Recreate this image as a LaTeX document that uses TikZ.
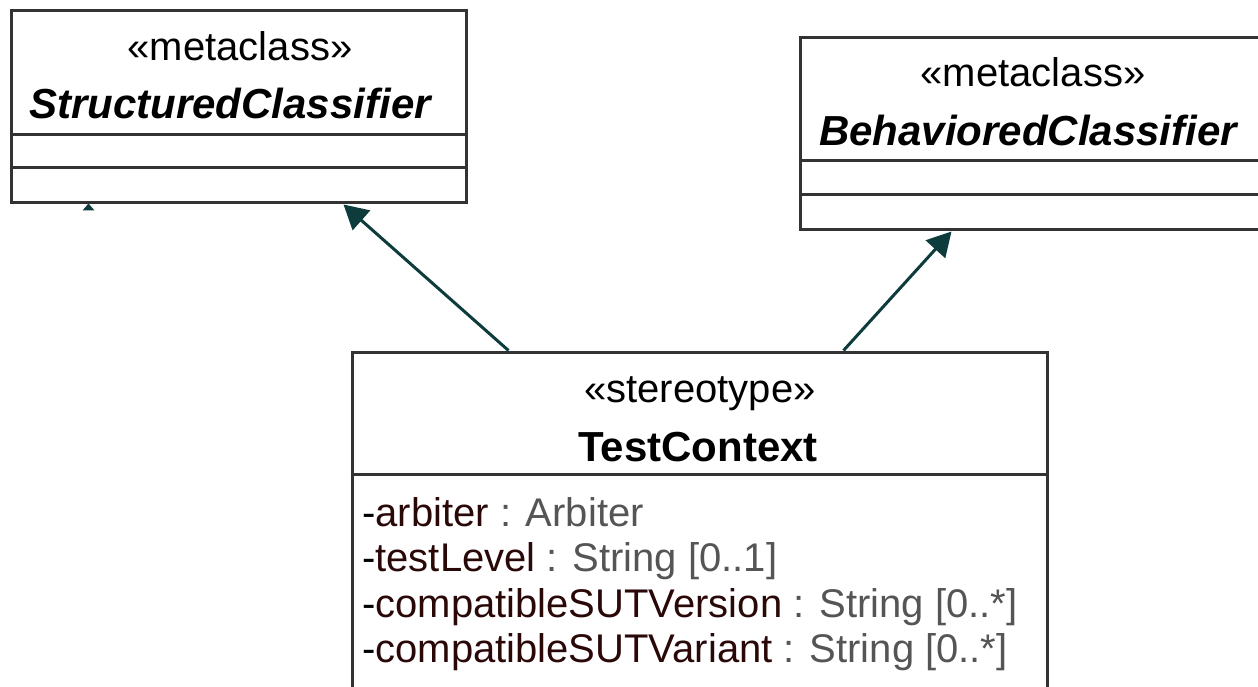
\documentclass[tikz,border=0pt]{standalone}
\usepackage{fontspec}
\setmainfont{Liberation Sans}
\usetikzlibrary{arrows.meta,calc}
\definecolor{boxline}{HTML}{333333}
\definecolor{arrowc}{HTML}{0E3B3B}
\definecolor{attrname}{HTML}{2A0808}
\definecolor{attrtype}{HTML}{555555}
\tikzset{
  umlbox/.style={draw=boxline,line width=3pt,rectangle,inner sep=0pt,fill=white},
  divider/.style={draw=boxline,line width=3pt},
  stereo/.style={inner sep=0pt,font=\fontsize{40}{46}\selectfont,anchor=base},
  cname/.style={inner sep=0pt,font=\fontsize{42}{48}\selectfont\bfseries\itshape,anchor=base},
  tname/.style={inner sep=0pt,font=\fontsize{42}{48}\selectfont\bfseries,anchor=base},
  attr/.style={inner sep=0pt,font=\fontsize{40}{46}\selectfont,anchor=base west},
  gen/.style={draw=arrowc,line width=3pt,-{Triangle[length=24pt,width=26pt]}}
}
\begin{document}
\begin{tikzpicture}[x=1pt,y=-1pt]
\useasboundingbox[fill=white] (0,0) rectangle (1258,687);
% StructuredClassifier
\node[umlbox,minimum width=455pt,minimum height=192pt] (sc) at (238.5,107) {};
\draw[divider] ($(sc.north west)+(0,125)$) -- ($(sc.north east)+(0,125)$);
\draw[divider] ($(sc.north west)+(0,158)$) -- ($(sc.north east)+(0,158)$);
\node[stereo] (scs) at (240,61) {«metaclass»};
\node[cname] (scn) at (230,119) {StructuredClassifier};
% BehavioredClassifier
\node[umlbox,minimum width=480pt,minimum height=192pt] (bc) at (1040,134) {};
\draw[divider] ($(bc.north west)+(0,124)$) -- ($(bc.north east)+(0,124)$);
\draw[divider] ($(bc.north west)+(0,158)$) -- ($(bc.north east)+(0,158)$);
\node[stereo] (bcs) at (1033,87) {«metaclass»};
\node[cname] (bcn) at (1028,146) {BehavioredClassifier};
% TestContext
\node[umlbox,minimum width=695pt,minimum height=400pt] (tc) at (699.5,552) {};
\draw[divider] ($(tc.north west)+(0,124)$) -- ($(tc.north east)+(0,124)$);
\node[stereo] (tcs) at (700,402) {«stereotype»};
\node[tname] (tcn) at (698,461) {TestContext};
\node[attr] (a1) at (362,526) {-\textcolor{attrname}{arbiter} \textcolor{attrtype}{: Arbiter}};
\node[attr] (a2) at (362,571) {-\textcolor{attrname}{testLevel} \textcolor{attrtype}{: String [0..1]}};
\node[attr] (a3) at (362,617) {-\textcolor{attrname}{compatibleSUTVersion} \textcolor{attrtype}{: String [0..*]}};
\node[attr] (a4) at (362,662) {-\textcolor{attrname}{compatibleSUTVariant} \textcolor{attrtype}{: String [0..*]}};
% generalizations
\draw[gen] ([xshift=158pt]tc.north west) -- ([xshift=334pt]sc.south west);
\draw[gen] ([xshift=493pt]tc.north west) -- ([xshift=153pt]bc.south west);
% small fragment of an arrow tip
\coordinate (frag) at ([xshift=79pt]sc.south west);
\fill[arrowc] ($(frag)+(-6,6)$) -- ($(frag)+(0,-1)$) -- ($(frag)+(6,6)$) -- cycle;
\end{tikzpicture}
\end{document}
